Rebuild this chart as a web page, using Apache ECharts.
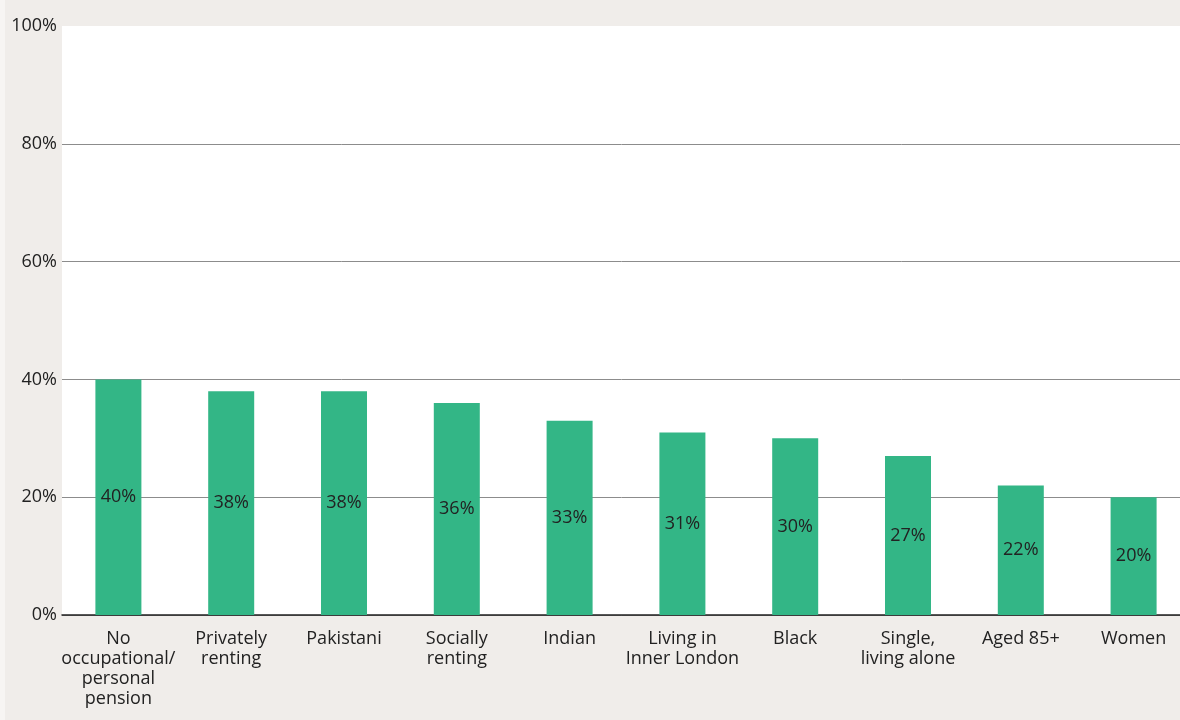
<!DOCTYPE html>
<html><head><meta charset="utf-8">
<script src="https://cdn.jsdelivr.net/npm/echarts@6/dist/echarts.min.js"></script>
<style>html,body{margin:0;padding:0;background:#f0edea;}#c{width:1180px;height:720px;}</style>
</head><body><div id="c"></div>
<script>
const categories = ["No\noccupational/\npersonal\npension","Privately\nrenting","Pakistani","Socially\nrenting","Indian","Living in\nInner London","Black","Single,\nliving alone","Aged 85+","Women"];
const values = [40,38,38,36,33,31,30,27,22,20];
const yTicks = [0,20,40,60,80,100];
const chart = echarts.init(document.getElementById('c'));
chart.setOption({
  backgroundColor:'#f0edea',
  animation:false,
  graphic:[{type:'rect',left:0,top:0,shape:{width:5,height:720},style:{fill:'#f7f5f3'},z:-1},
           {type:'rect',left:62,top:26,shape:{width:1118,height:589},style:{fill:'#ffffff'},z:-1}],
  grid:{left:62,width:1128,top:26,height:589,outerBoundsMode:'none',containLabel:false,show:false},
  xAxis:{type:'category',data:categories,
    axisLine:{lineStyle:{color:'#222',width:1.5}},axisTick:{show:false},
    axisLabel:{color:'#222',fontSize:18,fontFamily:'Open Sans',lineHeight:20,margin:14,interval:0}},
  yAxis:{type:'value',min:yTicks[0],max:yTicks[yTicks.length-1],interval:20,
    axisLine:{show:false},axisTick:{show:false},
    splitLine:{lineStyle:{color:['#8c8c8c','#8c8c8c','#8c8c8c','#8c8c8c','#8c8c8c','rgba(0,0,0,0)'],width:1}},
    axisLabel:{color:'#222',fontSize:18,fontFamily:'Open Sans',margin:5,formatter:'{value}%'}},
  series:[{type:'bar',data:values,barWidth:46,itemStyle:{color:'#33b686'},
    label:{show:true,position:'inside',color:'#222',fontSize:18,fontFamily:'Open Sans',formatter:'{c}%'}}]
});
</script></body></html>
